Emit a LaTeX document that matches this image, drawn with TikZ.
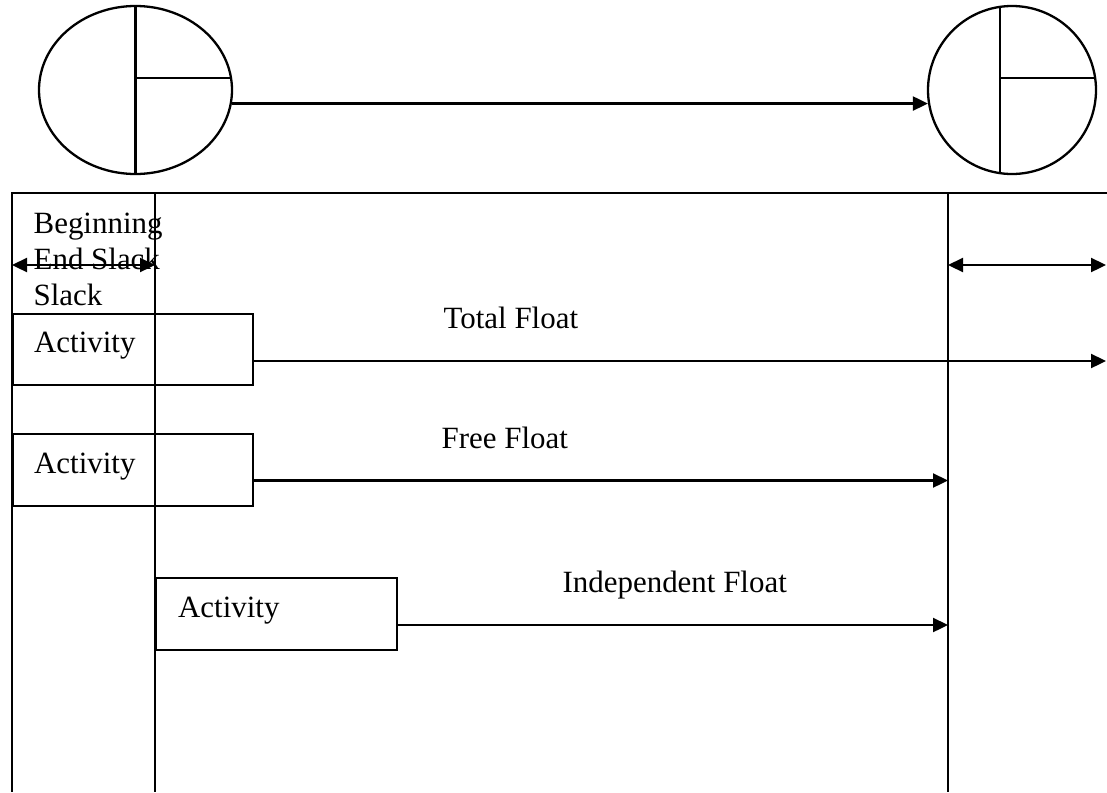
\documentclass[tikz,border=0pt]{standalone}
\usepackage{fontspec}
\setmainfont{Liberation Serif}
\usetikzlibrary{arrows.meta,shapes.geometric}

\tikzstyle{event}=[draw=black,ellipse,inner sep=0pt]
\tikzstyle{activity}=[draw=black,rectangle,anchor=north west,inner sep=0pt]
\tikzstyle{caption}=[anchor=base west,inner sep=0pt,font=\fontsize{17.6}{21}\selectfont]
\tikzstyle{flow}=[-{Triangle[length=0.3cm,width=0.28cm]}]
\tikzstyle{span}=[{Triangle[length=0.3cm,width=0.28cm]}-{Triangle[length=0.3cm,width=0.28cm]}]

\begin{document}
\begin{tikzpicture}[line width=0.046cm]
   \useasboundingbox (0,0) rectangle (22.14,-15.84);

   % events
   \node[event,minimum width=3.86cm,minimum height=3.36cm] (start) at (2.71,-1.80) {};
   \node[event,circle,minimum size=3.36cm] (finish) at (20.24,-1.80) {};
   \draw (start.north) -- (start.south);
   \draw (start.center |- 0,-1.56) -- (start.7 |- 0,-1.56);
   \draw (finish.98) -- (finish.262);
   \draw (finish.98 |- 0,-1.56) -- (finish.8 |- 0,-1.56);
   \draw[flow] (start.-8) -- (finish.189 |- start.-8);

   % frame
   \draw (22.14,-3.86) coordinate(ftr) -- (0.24,-3.86) coordinate(ftl)
-- (0.24,-15.84) coordinate(fbl);
   \draw (3.10,-3.86) coordinate(d1t) -- (3.10,-15.84) coordinate(d1b);
   \draw (18.96,-3.86) coordinate(d2t) -- (18.96,-15.84) coordinate(d2b);

   \draw[span] (0.24,-5.30) coordinate(bs1) -- (3.10,-5.30) coordinate(bs2);
   \draw[span] (18.96,-5.30) coordinate(es1) -- (22.12,-5.30) coordinate(es2);

   \node[caption] (begin1) at (0.65,-4.67) {Beginning};
   \node[caption] (endsl) at (0.65,-5.39) {End Slack};
   \node[caption] (begin2) at (0.65,-6.10) {Slack};

   % activities
   \node[activity,minimum width=4.8cm,minimum height=1.43cm] (act1) at (0.24,-6.25) {};
   \node[caption] (act1txt) at (0.66,-7.04) {Activity};
   \node[activity,minimum width=4.8cm,minimum height=1.45cm] (act2) at (0.24,-8.65) {};
   \node[caption] (act2txt) at (0.66,-9.46) {Activity};
   \node[activity,minimum width=4.82cm,minimum height=1.44cm] (act3) at (3.10,-11.53) {};
   \node[caption] (act3txt) at (3.54,-12.34) {Activity};

   \coordinate (totf) at (22.12,-7.22);
   \coordinate (fref) at (18.96,-9.61);
   \coordinate (indf) at (18.96,-12.50);
   \draw[flow] (act1.east |- totf) -- (totf);
   \draw[flow] (act2.east |- fref) -- (fref);
   \draw[flow] (act3.east |- indf) -- (indf);

   \node[caption] (total) at (8.85,-6.57) {Total Float};
   \node[caption] (free) at (8.81,-8.97) {Free Float};
   \node[caption] (indep) at (11.23,-11.85) {Independent Float};
\end{tikzpicture}
\end{document}
